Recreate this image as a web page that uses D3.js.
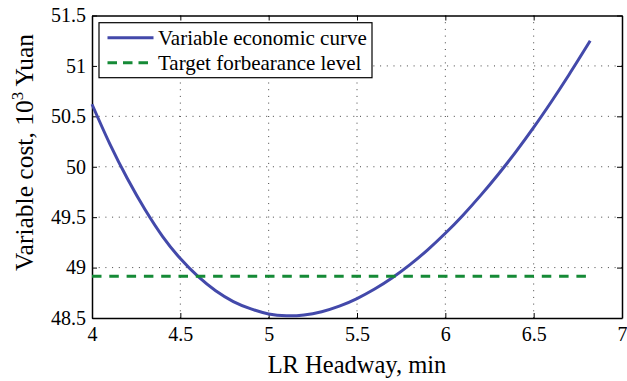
<!DOCTYPE html>
<html>
<head>
<meta charset="utf-8">
<script src="https://cdn.jsdelivr.net/npm/d3@7"></script>
<style>
  body { margin: 0; background: #fff; }
</style>
</head>
<body>
<div id="chart"></div>
<script>
// headway (min) vs variable cost (10^3 Yuan)
var headway = [4.0, 4.1, 4.2, 4.3, 4.4, 4.5, 4.6, 4.7, 4.8, 4.9, 5.0, 5.1, 5.2, 5.3, 5.4,
               5.5, 5.6, 5.7, 5.8, 5.9, 6.0, 6.1, 6.2, 6.3, 6.4, 6.5, 6.6, 6.7, 6.82];
var cost = [50.62, 50.23, 49.883, 49.576, 49.308, 49.089, 48.912, 48.77, 48.663, 48.59, 48.54, 48.522, 48.53, 48.562, 48.617,
            48.693, 48.787, 48.899, 49.029, 49.176, 49.34, 49.52, 49.716, 49.926, 50.15, 50.39, 50.645, 50.913, 51.249];
var targetX = [4.0, 6.8];
var targetLevel = 48.913;
var xTicks = [4, 4.5, 5, 5.5, 6, 6.5, 7];
var yTicks = [48.5, 49, 49.5, 50, 50.5, 51, 51.5];
var seriesNames = ["Variable economic curve", "Target forbearance level"];

function init(){
    var W = 627, H = 381;
    var margin = {top: 15.5, right: 5, bottom: 63, left: 92};
    var w = W - margin.left - margin.right;
    var h = H - margin.top - margin.bottom;
    var blue = "#4349aa", green = "#158a36";
    var serif = '"Liberation Serif", "Times New Roman", serif';

    var xScale = d3.scaleLinear().domain([4, 7]).range([0, w]);
    var yScale = d3.scaleLinear().domain([48.5, 51.5]).range([h, 0]);

    var svg = d3.select("#chart").append("svg")
        .attr("width", W).attr("height", H);
    var g = svg.append("g")
        .attr("transform", "translate(" + margin.left + "," + margin.top + ")");

    // dotted grid
    g.append("g").selectAll("line")
        .data(xTicks.slice(1, -1)).enter().append("line")
        .attr("x1", function(d){ return xScale(d); })
        .attr("x2", function(d){ return xScale(d); })
        .attr("y1", 0).attr("y2", h)
        .attr("stroke", "#444").attr("stroke-dasharray", "1,5.7");
    g.append("g").selectAll("line")
        .data(yTicks.slice(1, -1)).enter().append("line")
        .attr("y1", function(d){ return yScale(d); })
        .attr("y2", function(d){ return yScale(d); })
        .attr("x1", 0).attr("x2", w)
        .attr("stroke", "#444").attr("stroke-dasharray", "1,5.7");

    // axes, ticks pointing inwards on all four sides
    var fmt = function(d){ return d3.format("~g")(d); };
    var xAxis = g.append("g").attr("transform", "translate(0," + h + ")")
        .call(d3.axisBottom(xScale).tickValues(xTicks).tickFormat(fmt).tickSizeInner(-5).tickSizeOuter(0).tickPadding(9));
    var yAxis = g.append("g")
        .call(d3.axisLeft(yScale).tickValues(yTicks).tickFormat(fmt).tickSizeInner(-5).tickSizeOuter(0).tickPadding(6));
    var topAxis = g.append("g")
        .call(d3.axisTop(xScale).tickValues(xTicks).tickFormat("").tickSizeInner(-5).tickSizeOuter(0));
    var rightAxis = g.append("g").attr("transform", "translate(" + w + ",0)")
        .call(d3.axisRight(yScale).tickValues(yTicks).tickFormat("").tickSizeInner(-5).tickSizeOuter(0));
    [xAxis, yAxis, topAxis, rightAxis].forEach(function(a){
        a.attr("font-family", serif);
        a.select(".domain").attr("stroke", "#000").attr("stroke-width", 1.5);
        a.selectAll(".tick line").attr("stroke", "#000").attr("stroke-width", 1);
        a.selectAll("text").style("font-family", serif).style("font-size", "20px").attr("fill", "#000");
    });

    // curves
    var line = d3.line()
        .x(function(d){ return xScale(d[0]); })
        .y(function(d){ return yScale(d[1]); })
        .curve(d3.curveCatmullRom.alpha(0.5));
    g.append("path")
        .datum(headway.map(function(d, i){ return [d, cost[i]]; }))
        .attr("d", line)
        .attr("fill", "none").attr("stroke", blue).attr("stroke-width", 3);
    g.append("path")
        .datum(targetX.map(function(d){ return [d, targetLevel]; }))
        .attr("d", d3.line().x(function(d){ return xScale(d[0]); }).y(function(d){ return yScale(d[1]); }))
        .attr("fill", "none").attr("stroke", green).attr("stroke-width", 3)
        .attr("stroke-dasharray", "9.5,7.8");

    // legend
    var lg = svg.append("g").attr("transform", "translate(99,22.7)");
    lg.append("rect").attr("width", 273).attr("height", 55)
        .attr("fill", "#fff").attr("stroke", "#000").attr("stroke-width", 1.2);
    var items = [{c: blue, dash: null}, {c: green, dash: "9.5,6"}];
    items.forEach(function(it, i){
        var y = 15 + i * 25;
        lg.append("line").attr("x1", 8.5).attr("x2", 54.5).attr("y1", y).attr("y2", y)
            .attr("stroke", it.c).attr("stroke-width", 3)
            .attr("stroke-dasharray", it.dash);
        lg.append("text").attr("x", 59).attr("y", y + 7.5)
            .style("font-family", serif).style("font-size", "21px").text(seriesNames[i]);
    });

    // axis labels
    svg.append("text")
        .attr("x", margin.left + w / 2).attr("y", 373)
        .attr("text-anchor", "middle")
        .style("font-family", serif).style("font-size", "24.5px")
        .text("LR Headway, min");
    var yl = svg.append("text")
        .attr("transform", "translate(33,152.5) rotate(-90)")
        .attr("text-anchor", "middle")
        .style("font-family", serif).style("font-size", "25.5px");
    yl.append("tspan").text("Variable cost, 10");
    yl.append("tspan").attr("dy", -10).style("font-size", "17px").text("3");
    yl.append("tspan").attr("dy", 10).text(" Yuan");
}
window.onload = init;
</script>
</body>
</html>
